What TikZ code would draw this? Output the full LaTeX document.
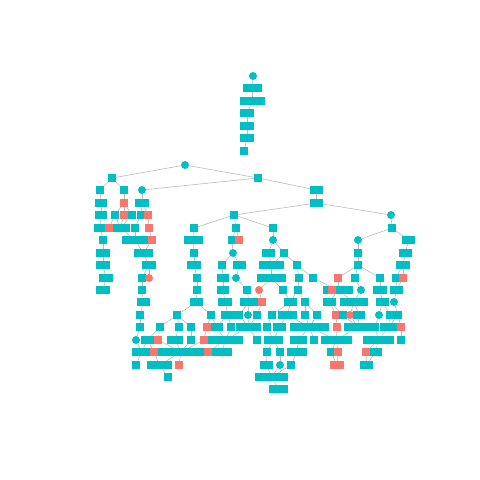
\documentclass[tikz,border=0pt]{standalone}
\usetikzlibrary{backgrounds}
\definecolor{tl}{HTML}{00BFC4}
\definecolor{rd}{HTML}{F8766D}
\tikzset{
  blk/.style={rectangle,draw=none,inner sep=0pt,minimum size=8pt},
  edge/.style={draw=black!27,line width=0.6pt}
}
\newcommand\nSq[4][tl]{\node[blk,fill=#1] (#2) at (#3,#4) {};}
\newcommand\nCi[4][tl]{\node[blk,circle,fill=#1] (#2) at (#3,#4) {};}
\newcommand\nBa[5][tl]{\node[blk,fill=#1,minimum width=#4pt-#3pt] (#2) at ({(#3+#4)/2},#5) {};}
\begin{document}
\begin{tikzpicture}[x=1pt,y=-1pt]
\useasboundingbox (0,0) rectangle (480,480);
% top component
\nCi{t0}{253}{76}
\nBa{t1}{243}{262}{88}
\nBa{t2}{240}{265}{101}
\nBa{t3}{240}{254}{113}
\nBa{t4}{240}{254}{126}
\nBa{t5}{240}{254}{138}
\nSq{t6}{244}{151}
% main tree
\nCi{r}{185}{165}
\nSq{L}{112}{178} \nSq{M}{258}{178}
\nSq{a190}{100}{190} \nSq{b190}{124}{190} \nCi{c190}{142}{190} \nBa{d190}{310}{323}{190}
\nBa{a203}{95}{107}{203} \nSq[rd]{b203}{124}{203} \nBa{c203}{135}{149}{203} \nBa{d203}{310}{323}{203}
\nBa{a215}{95}{107}{215} \nSq{b215}{115}{215} \nSq[rd]{c215}{124}{215} \nSq{d215}{132}{215}
\nSq{e215}{141}{215} \nSq[rd]{f215}{148}{215} \nSq{g215}{234}{215} \nCi{h215}{391}{215}
\nBa{a228}{94}{107}{228} \nBa{c228}{111}{130}{228} \nSq[rd]{b228}{109}{228} \nSq{d228}{135}{228}
\nSq[rd]{e228}{149}{228} \nSq{f228}{194}{228} \nSq{g228}{236}{228} \nSq{h228}{273}{228} \nSq{i228}{392}{228}
\nSq{a240}{103}{240} \nBa{b240}{122}{148}{240} \nSq[rd]{c240}{152}{240} \nBa{d240}{184}{203}{240}
\nSq{e240}{232}{240} \nSq[rd]{f240}{239}{240} \nCi{g240}{273}{240} \nCi{h240}{358}{240} \nBa{i240}{402}{415}{240}
\nBa{a253}{96}{110}{253} \nBa{b253}{134}{153}{253} \nSq{c253}{194}{253} \nCi{d253}{233}{253}
\nBa{e253}{262}{275}{253} \nSq{f253}{284}{253} \nSq{g253}{358}{253} \nBa{h253}{399}{412}{253}
\nBa{a265}{96}{110}{265} \nBa{b265}{142}{156}{265} \nBa{c265}{187}{201}{265} \nSq{d265}{222}{265}
\nBa{e265}{233}{246}{265} \nBa{f265}{259}{284}{265} \nSq{g265}{297}{265} \nSq{h265}{358}{265} \nBa{i265}{396}{410}{265}
\nBa{a278}{99}{113}{278} \nSq{b278}{142}{278} \nCi[rd]{c278}{149}{278} \nSq{d278}{197}{278}
\nBa{e278}{217}{229}{278} \nCi{f278}{236}{278} \nBa{g278}{257}{286}{278} \nSq{h278}{299}{278}
\nSq{i278}{313}{278} \nSq[rd]{j278}{338}{278} \nSq{k278}{355}{278} \nSq{l278}{380}{278}
\nSq{m278}{396}{278} \nSq[rd]{n278}{403}{278}
\nBa{a290}{96}{110}{290} \nSq{b290}{142}{290} \nSq{c290}{197}{290} \nBa{d290}{217}{229}{290}
\nSq{e290}{247}{290} \nCi[rd]{f290}{259}{290} \nSq{g290}{283}{290} \nSq{h290}{298}{290}
\nBa{i290}{323}{353}{290} \nSq[rd]{ir290}{332}{290} \nCi{j290}{361}{290} \nBa{k290}{373}{387}{290} \nBa{l290}{390}{403}{290}
\nBa{a302}{137}{150}{302} \nBa{b302}{190}{203}{302} \nBa{c302}{218}{232}{302} \nBa{d302}{240}{258}{302}
\nSq[rd]{e302}{262}{302} \nBa{f302}{284}{297}{302} \nSq{g302}{305}{302} \nBa{h302}{323}{336}{302}
\nBa{i302}{340}{368}{302} \nBa{j302}{376}{389}{302} \nCi{k302}{394}{302}
\nSq{a315}{140}{315} \nSq{b315}{177}{315} \nSq{c315}{211}{315} \nBa{d315}{221}{235}{315}
\nSq{e315}{239}{315} \nCi{f315}{248}{315} \nSq{g315}{257}{315} \nSq{h315}{272}{315}
\nBa{i315}{278}{297}{315} \nSq{j315}{305}{315} \nSq{k315}{317}{315} \nSq[rd]{l315}{336}{315}
\nSq{m315}{343}{315} \nCi[rd]{n315}{350}{315} \nBa{o315}{353}{365}{315} \nCi{p315}{379}{315}
\nSq{q315}{390}{315} \nSq{s315}{398}{315}
\nSq{a327}{140}{327} \nSq{b327}{160}{327} \nSq{c327}{179}{327} \nSq{d327}{191}{327}
\nBa{f327}{210}{223}{327} \nSq[rd]{e327}{207}{327} \nSq{g327}{231}{327} \nBa{h327}{236}{261}{327}
\nSq{i327}{267}{327} \nBa{j327}{273}{286}{327} \nBa{k327}{290}{329}{327} \nSq[rd]{l327}{337}{327}
\nBa{m327}{344}{371}{327} \nSq{n327}{375}{327} \nBa{o327}{380}{397}{327} \nSq[rd]{p327}{401}{327}
\nCi{a340}{136}{340} \nBa{b340}{141}{154}{340} \nSq[rd]{c340}{158}{340} \nBa{d340}{167}{183}{340}
\nSq{e340}{191}{340} \nBa{g340}{208}{243}{340} \nSq[rd]{f340}{204}{340} \nSq{h340}{257}{340}
\nBa{i340}{264}{283}{340} \nBa{j340}{290}{307}{340} \nSq{k340}{314}{340} \nBa{l340}{321}{352}{340}
\nBa{m340}{363}{394}{340} \nSq{n340}{401}{340}
\nBa{a352}{132}{151}{352} \nBa{c352}{158}{204}{352} \nSq[rd]{b352}{154}{352} \nBa{e352}{212}{232}{352}
\nSq[rd]{d352}{208}{352} \nSq{f352}{267}{352} \nSq{g352}{280}{352} \nBa{h352}{287}{307}{352}
\nSq{i352}{331}{352} \nSq[rd]{j352}{338}{352} \nBa{l352}{369}{382}{352} \nSq[rd]{k352}{366}{352}
\nSq{a365}{136}{365} \nBa{b365}{147}{172}{365} \nSq[rd]{c365}{179}{365} \nBa{d365}{260}{273}{365}
\nCi{e365}{280}{365} \nSq{f365}{291}{365} \nBa[rd]{g365}{330}{344}{365} \nBa{h365}{360}{373}{365}
\nSq{a377}{168}{377} \nBa{b377}{255}{288}{377}
\nBa{a389}{269}{288}{389}
\begin{scope}[on background layer]
\foreach \p/\c in {t0/t1,t1/t2,t2/t3,t3/t4,t4/t5,t5/t6,
 r/L,r/M,L/a190,L/b190,M/c190,M/d190,
 a190/a203,b190/b203,c190/c203,d190/d203,
 a203/a215,b203/b215,b203/c215,b203/d215,c203/e215,c203/f215,d203/g215,d203/h215,
 a215/a228,b215/b228,b215/c228,c215/c228,d215/c228,e215/d228,f215/e228,g215/f228,g215/g228,g215/h228,h215/i228,
 a228/a240,c228/b240,d228/b240,e228/c240,f228/d240,g228/e240,g228/f240,h228/g240,i228/h240,i228/i240,
 a240/a253,b240/b253,c240/b253,d240/c253,e240/d253,g240/e253,g240/f253,h240/g253,i240/h253,
 a253/a265,b253/b265,c253/c265,d253/d265,d253/e265,e253/f265,f253/f265,f253/g265,g253/h265,h253/i265,
 a265/a278,b265/b278,b265/c278,c265/d278,d265/e278,e265/f278,f265/g278,g265/h278,g265/i278,h265/j278,h265/k278,h265/l278,i265/m278,i265/n278,
 a278/a290,b278/b290,d278/c290,e278/d290,f278/e290,g278/f290,g278/g290,h278/h290,i278/i290,j278/i290,k278/j290,l278/k290,m278/l290,n278/l290,
 b290/a302,c290/b302,d290/c302,e290/d302,f290/e302,g290/f302,h290/f302,h290/g302,i290/h302,i290/i302,j290/i302,k290/j302,l290/k302,
 a302/a315,b302/b315,b302/c315,c302/d315,d302/e315,d302/f315,e302/g315,f302/h315,f302/i315,g302/j315,g302/k315,h302/l315,h302/m315,i302/n315,i302/o315,j302/p315,j302/q315,k302/s315,
 a315/a327,b315/b327,b315/c327,b315/d327,c315/e327,c315/f327,d315/f327,d315/g327,e315/h327,f315/h327,g315/h327,h315/i327,i315/j327,i315/k327,j315/k327,k315/k327,l315/l327,m315/m327,n315/m327,o315/m327,p315/n327,q315/o327,s315/o327,s315/p327,
 a327/a340,b327/b340,b327/c340,c327/d340,d327/e340,e327/f340,f327/g340,g327/g340,h327/g340,h327/h340,i327/i340,j327/i340,k327/j340,k327/k340,k327/l340,l327/l340,m327/l340,n327/m340,o327/m340,p327/n340,
 a340/a352,b340/a352,b340/b352,c340/c352,d340/c352,e340/c352,f340/c352,g340/d352,g340/e352,i340/f352,i340/g352,j340/h352,l340/i352,l340/j352,m340/k352,m340/l352,
 a352/a365,b352/b365,c352/b365,c352/c365,f352/d365,g352/e365,h352/f365,i352/g365,j352/g365,k352/h365,l352/h365,
 b365/a377,d365/b377,e365/b377,f365/b377,b377/a389}
 \draw[edge] (\p) -- (\c);
\end{scope}
\end{tikzpicture}
\end{document}
